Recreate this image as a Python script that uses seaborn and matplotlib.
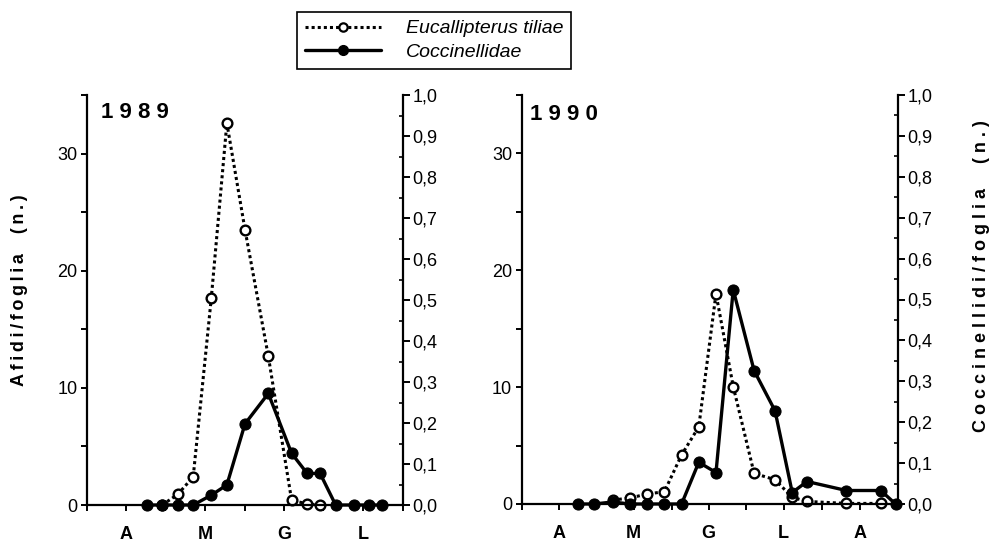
import numpy as np
import pandas as pd
import matplotlib
matplotlib.use("Agg")
import matplotlib.pyplot as plt
import seaborn as sns
from matplotlib.ticker import FixedLocator, FuncFormatter, MultipleLocator, NullFormatter
from matplotlib.lines import Line2D

# ---------------- data (x = days since 1 April) ----------------
days_1989 = [23, 29, 35, 41, 48, 54, 61, 70, 79, 85, 90, 96, 103, 109, 114]
aphids_1989 = [np.nan, 0.0, 0.9, 2.4, 17.7, 32.6, 23.5, 12.7, 0.4, 0.1, 0.0,
               np.nan, np.nan, np.nan, np.nan]
cocc_1989 = [0, 0, 0, 0, 0.024, 0.049, 0.198, 0.272, 0.126, 0.077, 0.077, 0, 0, 0, 0]

days_1990 = [23, 29.5, 37, 44, 51, 58, 65, 72, 79, 86, 94.5, 103, 110, 116, 132, 146, 152]
aphids_1990 = [np.nan, np.nan, 0.34, 0.51, 0.86, 1.05, 4.2, 6.6, 18.0, 10.05, 2.62,
               2.08, 0.57, 0.22, 0.05, 0.05, np.nan]
cocc_1990 = [0, 0, 0.005, 0, 0, 0, 0, 0.102, 0.077, 0.524, 0.326, 0.228, 0.028,
             0.055, 0.033, 0.033, 0]

month_bounds = [0, 30, 61, 91, 122, 153]
month_labels_1989 = ["A", "M", "G", "L"]
month_labels_1990 = ["A", "M", "G", "L", "A"]
left_ticks = [0, 10, 20, 30]
right_ticks = [0.0, 0.1, 0.2, 0.3, 0.4, 0.5, 0.6, 0.7, 0.8, 0.9, 1.0]
series_names = ["Eucallipterus tiliae", "Coccinellidae"]

# ---------------- style ----------------
sns.set_style("ticks")
plt.rcParams["font.family"] = ["Liberation Sans", "DejaVu Sans"]
plt.rcParams.update({
    "axes.linewidth": 1.6,
    "axes.edgecolor": "black",
    "text.color": "black",
    "axes.labelcolor": "black",
    "xtick.color": "black",
    "ytick.color": "black",
})

W, H = 989, 541
fig = plt.figure(figsize=(W / 100, H / 100), dpi=100)

def fx(px):
    return px / W

def fy(py):
    return 1 - py / H

open_kw = dict(color="black", linestyle=(0, (1, 1)), linewidth=2.2, marker="o",
               markersize=7, markerfacecolor="white", markeredgecolor="black",
               markeredgewidth=1.7, clip_on=False)
fill_kw = dict(color="black", linestyle="-", linewidth=2.4, marker="o",
               markersize=8, markerfacecolor="black", markeredgecolor="black",
               clip_on=False)

def panel(rect, days, aphids, cocc, nmonths, mlabels, year, year_px):
    ax = fig.add_axes(rect)
    ax2 = ax.twinx()
    d = pd.DataFrame({"day": days, "aphids": aphids, "cocc": cocc})
    da = d.dropna(subset=["aphids"])
    sns.lineplot(data=da, x="day", y="aphids", ax=ax, **open_kw)
    sns.lineplot(data=d, x="day", y="cocc", ax=ax2, **fill_kw)

    xmax = month_bounds[nmonths]
    ax.set_xlim(0, xmax)
    ax.set_ylim(0, 35)
    ax2.set_ylim(0, 1.0)
    ax.set_xlabel("")
    ax.set_ylabel("")
    ax2.set_ylabel("")

    # x ticks: month boundaries (major), month centres (minor, labelled)
    bounds = month_bounds[:nmonths + 1]
    centres = [(bounds[i] + bounds[i + 1]) / 2 for i in range(nmonths)]
    ax.xaxis.set_major_locator(FixedLocator(bounds))
    ax.xaxis.set_major_formatter(NullFormatter())
    ax.xaxis.set_minor_locator(FixedLocator(centres))
    ax.set_xticklabels(mlabels, minor=True)
    ax.tick_params(axis="x", which="both", direction="out", length=4, width=1.4)
    ax.tick_params(axis="x", which="minor", pad=11, labelsize=13)
    for t in ax.get_xticklabels(minor=True):
        t.set_fontweight("bold")

    # left y
    ax.yaxis.set_major_locator(FixedLocator(left_ticks))
    ax.yaxis.set_minor_locator(MultipleLocator(5))
    ax.tick_params(axis="y", which="both", direction="out", length=4, width=1.4,
                   labelsize=13, pad=3)

    # right y
    ax2.yaxis.set_major_locator(FixedLocator(right_ticks))
    ax2.yaxis.set_minor_locator(MultipleLocator(0.05))
    ax2.yaxis.set_major_formatter(FuncFormatter(lambda v, _: f"{v:.1f}".replace(".", ",")))
    ax2.tick_params(axis="y", which="major", direction="out", length=5, width=1.4,
                    labelsize=13, pad=2)
    ax2.tick_params(axis="y", which="minor", direction="in", length=3, width=1.2)

    for s in ["top", "right"]:
        ax.spines[s].set_visible(False)
    for s in ["top", "left", "bottom"]:
        ax2.spines[s].set_visible(False)
    ax2.spines["right"].set_linewidth(1.6)

    fig.text(fx(year_px[0]), fy(year_px[1]), " ".join(year), fontsize=16,
             fontweight="bold", ha="left", va="center")
    return ax, ax2

panel([fx(87), fy(505), 316 / W, 410 / H], days_1989, aphids_1989, cocc_1989,
      4, month_labels_1989, "1989", (101, 112))
panel([fx(521.7), fy(504), 376.3 / W, 409 / H], days_1990, aphids_1990, cocc_1990,
      5, month_labels_1990, "1990", (530, 114))

# axis titles
thin = "\u2009"
left_lab = thin.join("Afidi/foglia") + "    " + thin.join("(n.)")
right_lab = " ".join("Coccinellidi/foglia") + "     " + " ".join("(n.)")
fig.text(fx(20), fy(290), left_lab, rotation=90, fontsize=13, fontweight="bold",
         ha="center", va="center")
fig.text(fx(981), fy(276), right_lab, rotation=90, fontsize=13, fontweight="bold",
         ha="center", va="center")

# legend
handles = [
    Line2D([], [], color="black", linestyle=(0, (1, 1)), linewidth=2.2, marker="o",
           markersize=6, markerfacecolor="white", markeredgecolor="black",
           markeredgewidth=1.6),
    Line2D([], [], color="black", linestyle="-", linewidth=2.4, marker="o",
           markersize=7, markerfacecolor="black"),
]
leg = fig.legend(handles, series_names, loc="upper left",
                 bbox_to_anchor=(fx(297), fy(12)), frameon=True, fancybox=False,
                 framealpha=1, edgecolor="black", handlelength=3.9,
                 handletextpad=1.3, borderpad=0.4, labelspacing=0.3,
                 borderaxespad=0, prop={"style": "italic", "size": 14})
leg.get_frame().set_linewidth(1.2)

fig.savefig("out.png", dpi=100)
